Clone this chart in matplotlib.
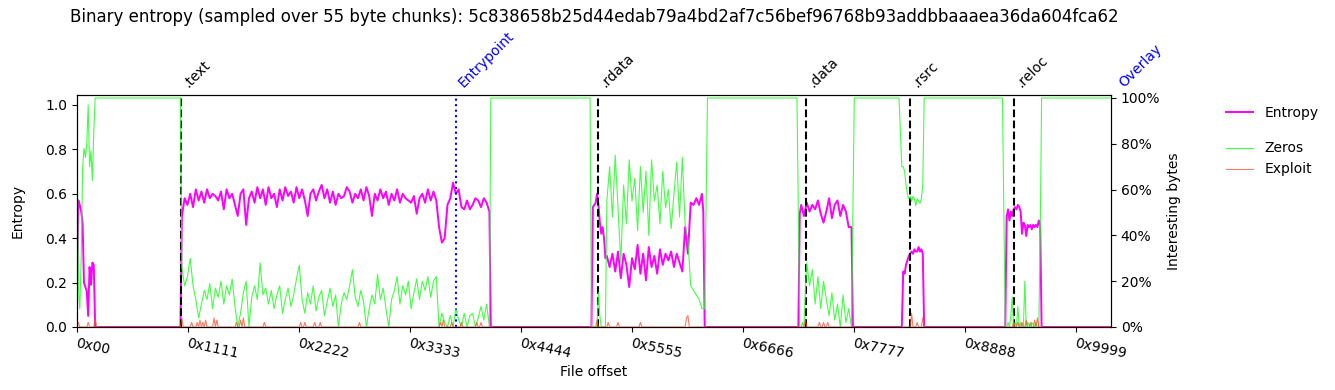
import matplotlib
matplotlib.use("Agg")
import matplotlib.pyplot as plt
from matplotlib.ticker import PercentFormatter
from matplotlib.lines import Line2D

CHUNK = 55
N_CHUNKS = 740
FILE_END = 40680

title = ("Binary entropy (sampled over 55 byte chunks): "
         "5c838658b25d44edab79a4bd2af7c56bef96768b93addbbaaaea36da604fca62")

section_names = ['.text', '.rdata', '.data', '.rsrc', '.reloc']
section_offsets = [0x1000, 0x5000, 0x7000, 0x8000, 0x9000]
entrypoint_offset = 14900
overlay_offset = 40880

xtick_values = [0x0, 0x1111, 0x2222, 0x3333, 0x4444, 0x5555, 0x6666, 0x7777, 0x8888, 0x9999]
xtick_labels = ['0x00', '0x1111', '0x2222', '0x3333', '0x4444', '0x5555',
                '0x6666', '0x7777', '0x8888', '0x9999']

# ---- Entropy (chunk-index runs: start, step, values) ----
ent_head = [0.14, 0.57, 0.55, 0.52, 0.47, 0.20, 0.18, 0.16, 0.05, 0.27, 0.19, 0.29, 0.28, 0.0]
ent_text = [0.50, 0.58, 0.55, 0.60, 0.54, 0.62, 0.57, 0.61, 0.56, 0.62,
            0.58, 0.60, 0.59, 0.57, 0.61, 0.53, 0.62, 0.58, 0.60, 0.55,
            0.50, 0.60, 0.62, 0.46, 0.58, 0.61, 0.56, 0.63, 0.58, 0.62,
            0.55, 0.63, 0.58, 0.60, 0.54, 0.62, 0.57, 0.63, 0.59, 0.61,
            0.56, 0.63, 0.58, 0.62, 0.57, 0.50, 0.60, 0.62, 0.57, 0.61,
            0.64, 0.58, 0.62, 0.56, 0.61, 0.55, 0.60, 0.58, 0.59, 0.63,
            0.61, 0.56, 0.60, 0.58, 0.62, 0.57, 0.63, 0.59, 0.50, 0.60,
            0.57, 0.62, 0.58, 0.61, 0.55, 0.60, 0.57, 0.62, 0.56, 0.60,
            0.58, 0.57, 0.56, 0.59, 0.51, 0.58, 0.60, 0.56, 0.62, 0.57,
            0.61, 0.57, 0.45, 0.38, 0.40, 0.55, 0.58, 0.65, 0.60, 0.62,
            0.54, 0.53, 0.57, 0.53, 0.55, 0.58, 0.57, 0.54, 0.58, 0.56, 0.52]
ent_rdata_head = [0.54, 0.55, 0.56, 0.60, 0.55, 0.47, 0.42, 0.45, 0.40, 0.31]
ent_rdata = [0.32, 0.27, 0.33, 0.25, 0.34, 0.22, 0.33, 0.28, 0.18, 0.31,
             0.26, 0.37, 0.24, 0.33, 0.21, 0.36, 0.27, 0.32, 0.24, 0.35,
             0.28, 0.33, 0.30, 0.34, 0.27, 0.33, 0.29, 0.25, 0.45, 0.33,
             0.56, 0.55, 0.58, 0.55, 0.60]
ent_data = [0.55, 0.50, 0.56, 0.52, 0.55, 0.53, 0.57, 0.51, 0.47, 0.52,
            0.58, 0.49, 0.55, 0.57, 0.50, 0.55, 0.52, 0.45, 0.45]
ent_rsrc = [0.25, 0.24, 0.28, 0.30, 0.32, 0.33, 0.34, 0.33, 0.35, 0.34,
            0.34, 0.36, 0.34, 0.35, 0.33]
ent_reloc = [0.50, 0.53, 0.48, 0.52, 0.50, 0.53, 0.54, 0.53, 0.55, 0.54,
             0.52, 0.42, 0.47, 0.46, 0.41, 0.46, 0.45, 0.46, 0.44, 0.46,
             0.45, 0.46, 0.45, 0.48, 0.46]

entropy_runs = [
    (0, 1, ent_head), (74, 1, [0.0]), (75, 2, ent_text), (296, 1, [0.0]),
    (368, 1, [0.0]), (369, 1, ent_rdata_head), (379, 2, ent_rdata), (448, 1, [0.52, 0.0]),
    (516, 1, [0.0, 0.51]), (518, 2, ent_data), (555, 1, [0.0]),
    (590, 1, [0.0]), (591, 1, ent_rsrc), (606, 1, [0.0]),
    (664, 1, [0.0]), (665, 1, ent_reloc), (690, 1, [0.0]), (739, 1, [0.0]),
]

# ---- Zeros (fraction) ----
zero_head = [0.85, 0.16, 0.08, 0.30, 0.69, 0.78, 0.74, 0.80, 0.97, 0.70, 0.77, 0.64, 0.85, 1.0]
zero_text = [0.26, 0.18, 0.22, 0.30, 0.18, 0.12, 0.04, 0.10, 0.16, 0.12,
             0.19, 0.08, 0.17, 0.13, 0.20, 0.10, 0.18, 0.14, 0.21, 0.09,
             0.0, 0.06, 0.15, 0.20, 0.0, 0.13, 0.18, 0.12, 0.28, 0.14,
             0.17, 0.10, 0.16, 0.08, 0.14, 0.18, 0.06, 0.12, 0.17, 0.09,
             0.14, 0.21, 0.27, 0.12, 0.06, 0.15, 0.10, 0.18, 0.07, 0.13,
             0.16, 0.05, 0.11, 0.17, 0.09, 0.14, 0.0, 0.10, 0.15, 0.12,
             0.18, 0.25, 0.13, 0.09, 0.16, 0.11, 0.0, 0.08, 0.14, 0.10,
             0.23, 0.12, 0.17, 0.08, 0.0, 0.12, 0.16, 0.22, 0.10, 0.18,
             0.14, 0.20, 0.08, 0.15, 0.21, 0.12, 0.20, 0.16, 0.22, 0.13,
             0.20, 0.22, 0.0, 0.06, 0.02, 0.0, 0.05, 0.0, 0.08, 0.03,
             0.0, 0.06, 0.0, 0.05, 0.06, 0.0, 0.04, 0.09, 0.03, 0.10, 0.0]
zero_rdata_head = [0.0, 0.0, 0.0, 0.0, 0.0, 0.15, 0.05, 0.0, 0.0, 0.0, 0.0]
zero_rdata = [0.55, 0.70, 0.48, 0.75, 0.52, 0.28, 0.62, 0.45, 0.73, 0.55,
              0.65, 0.42, 0.70, 0.50, 0.68, 0.40, 0.73, 0.55, 0.62, 0.45,
              0.68, 0.52, 0.60, 0.43, 0.58, 0.72, 0.48, 0.74, 0.45, 0.38,
              0.18, 0.16, 0.14, 0.12, 0.08, 0.08]
zero_data_head = [0.0, 0.0, 0.02, 0.0, 0.15, 0.28]
zero_data = [0.18, 0.25, 0.10, 0.22, 0.08, 0.20, 0.12, 0.05, 0.15, 0.03,
             0.10, 0.0, 0.14, 0.02, 0.08, 0.0]
zero_rsrc = [1.0, 0.85, 0.70, 0.70, 0.68, 0.62, 0.58, 0.56, 0.57, 0.55,
             0.57, 0.56, 0.53, 0.56, 0.55, 0.54, 0.56, 0.62, 1.0]
zero_reloc = [1.0, 0.5, 0.0, 0.0, 0.02, 0.0, 0.05, 0.13, 0.0, 0.02,
              0.0, 0.09, 0.0, 0.02, 0.0, 0.01, 0.20, 0.0, 0.02, 0.01,
              0.0, 0.02, 0.01, 0.0, 0.02, 0.0, 0.0, 0.4, 1.0]

zeros_runs = [
    (0, 1, zero_head), (74, 1, [1.0]), (75, 2, zero_text), (296, 1, [1.0]),
    (367, 1, [1.0]), (368, 1, zero_rdata_head), (379, 2, zero_rdata), (451, 1, [1.0]),
    (515, 1, [1.0]), (517, 1, zero_data_head), (524, 2, zero_data), (556, 1, [1.0]),
    (588, 1, zero_rsrc), (662, 1, zero_reloc), (739, 1, [1.0]),
]

# ---- Exploit (fraction): non-zero chunks ----
exploit_spike_chunks = [1, 8, 13, 75, 82, 86, 88, 90, 92, 98, 100, 114, 117, 119, 134,
                        160, 163, 170, 174, 202, 260, 262, 268, 275, 286, 289,
                        372, 380, 387, 403, 436, 437, 521, 531, 534, 537,
                        597, 601, 605, 670, 673, 676, 679, 682, 685, 687]
exploit_spike_values = [0.02, 0.02, 0.04, 0.04, 0.02, 0.02, 0.03, 0.02, 0.03, 0.04, 0.03,
                        0.02, 0.03, 0.04, 0.02, 0.02, 0.02, 0.02, 0.02, 0.02, 0.02, 0.03,
                        0.02, 0.02, 0.02, 0.02, 0.03, 0.02, 0.02, 0.02, 0.04, 0.05,
                        0.03, 0.02, 0.02, 0.02, 0.06, 0.02, 0.04,
                        0.02, 0.02, 0.02, 0.03, 0.02, 0.03, 0.04]


def build(runs):
    xs, ys = [], []
    for start, step, vals in runs:
        for i, v in enumerate(vals):
            xs.append((start + step * i) * CHUNK)
            ys.append(v)
    return xs, ys


ent_x, ent_y = build(entropy_runs)
zer_x, zer_y = build(zeros_runs)
spikes = dict(zip(exploit_spike_chunks, exploit_spike_values))
exp_x = [i * CHUNK for i in range(N_CHUNKS)]
exp_y = [spikes.get(i, 0.0) for i in range(N_CHUNKS)]

fig = plt.figure(figsize=(13.35, 3.9), dpi=100)
ax = fig.add_axes([77 / 1335, 1 - 327 / 390, (1111 - 77) / 1335, (327 - 95) / 390])
ax2 = ax.twinx()

l_ent, = ax.plot(ent_x, ent_y, color='#ff00ff', lw=1.4, label='Entropy')
l_zer, = ax2.plot(zer_x, zer_y, color='#22ff22', lw=0.8, alpha=0.85, label='Zeros')
l_exp, = ax2.plot(exp_x, exp_y, color='#ff4d2e', lw=0.8, alpha=0.75, label='Exploit')

for name, off in zip(section_names, section_offsets):
    ax.axvline(off, color='black', ls='--', lw=1.5)
    ax.text(off, 1.02, name, transform=ax.get_xaxis_transform(), rotation=45,
            ha='left', va='bottom', fontsize=10, color='black')
ax.axvline(entrypoint_offset, color='blue', ls=':', lw=1.5)
ax.text(entrypoint_offset, 1.02, 'Entrypoint', transform=ax.get_xaxis_transform(),
        rotation=45, ha='left', va='bottom', fontsize=10, color='blue')
ax.text(overlay_offset, 1.02, 'Overlay', transform=ax.get_xaxis_transform(),
        rotation=45, ha='left', va='bottom', fontsize=10, color='blue', clip_on=False)

ax.set_xlim(0, FILE_END)
ax.set_ylim(0, 1.045)
ax2.set_ylim(0, 1.013)
ax.set_yticks([0.0, 0.2, 0.4, 0.6, 0.8, 1.0])
ax2.set_yticks([0.0, 0.2, 0.4, 0.6, 0.8, 1.0])
ax2.yaxis.set_major_formatter(PercentFormatter(xmax=1, decimals=0))

ax.set_xticks(xtick_values)
ax.set_xticklabels(xtick_labels, rotation=-12, ha='left', rotation_mode='anchor')

ax.set_ylabel('Entropy')
ax.yaxis.set_label_coords(-0.051, 0.5)
ax2.set_ylabel('Interesting bytes')
ax2.yaxis.set_label_coords(1.054, 0.5)
ax.set_xlabel('File offset')
ax.xaxis.set_label_coords(0.5, -0.164)

fig.text(594 / 1335, 1 - 17 / 390, title, ha='center', va='center', fontsize=12)

leg1 = fig.legend(handles=[l_ent], loc='upper left', frameon=False,
                  bbox_to_anchor=(1213 / 1335, 1 - 93 / 390))
leg2 = fig.legend(handles=[Line2D([], [], color='#22ff22', lw=0.8, alpha=0.85),
                           Line2D([], [], color='#ff4d2e', lw=0.8, alpha=0.75)],
                  labels=['Zeros', 'Exploit'], loc='upper left', frameon=False,
                  bbox_to_anchor=(1213 / 1335, 1 - 129 / 390))

fig.savefig('out.png', dpi=100)
